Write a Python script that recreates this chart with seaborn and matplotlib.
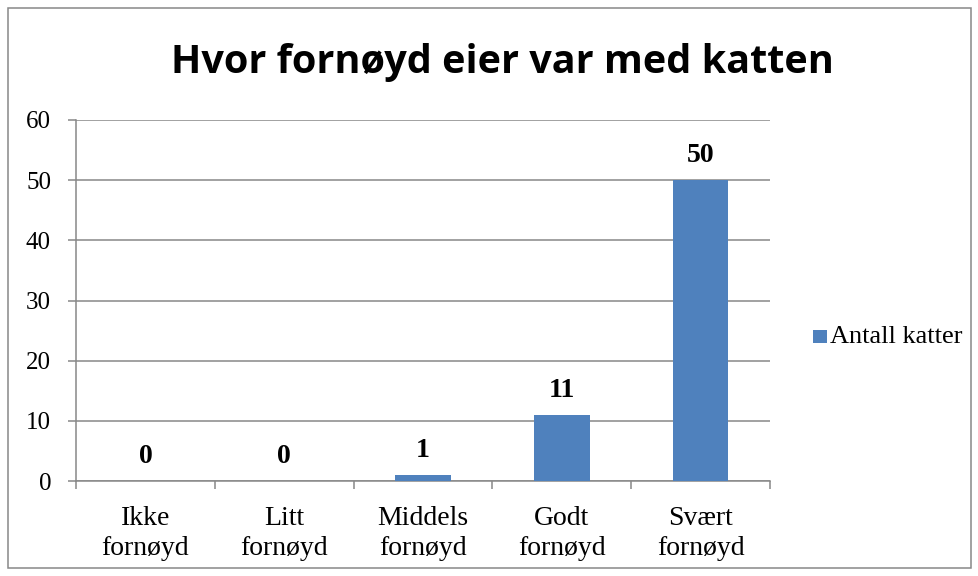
import matplotlib
matplotlib.use("Agg")
import matplotlib.pyplot as plt
import seaborn as sns
import pandas as pd
import numpy as np
from matplotlib.patches import Rectangle

categories = ["Ikke\nfornøyd", "Litt\nfornøyd", "Middels\nfornøyd", "Godt\nfornøyd", "Svært\nfornøyd"]
values = [0, 0, 1, 11, 50]
series_name = "Antall katter"
title = "Hvor fornøyd eier var med katten"
yticks = [0, 10, 20, 30, 40, 50, 60]

sns.set_theme(style="white")
plt.rcParams['font.family'] = ['Liberation Serif', 'DejaVu Serif']

df = pd.DataFrame({"cat": categories, "val": values, "series": series_name})

fig = plt.figure(figsize=(9.79, 5.76), dpi=100)
ax = fig.add_axes([76/979, 1-481/576, (770-76)/979, (481-120)/576])

bar_color = "#4F81BD"
grid_color = "#888888"
sns.barplot(data=df, x="cat", y="val", hue="series", palette=[bar_color],
            saturation=1, width=0.4, linewidth=0, ax=ax, legend=False, zorder=3)

ax.set_ylim(0, 60)
ax.set_xlim(-0.5, len(categories)-0.5)
ax.set_yticks(yticks)
ax.set_yticklabels([str(t) for t in yticks], fontsize=18, color="black")
ax.yaxis.grid(True, color=grid_color, linewidth=1.1, zorder=0)
ax.xaxis.grid(False)
ax.set_xlabel("")
ax.set_ylabel("")

ax.set_xticks(np.arange(len(categories)))
ax.set_xticklabels(categories, fontsize=20, color="black", linespacing=1.25)
ax.tick_params(axis="x", length=0, pad=18)
ax.set_xticks(np.arange(-0.5, len(categories)), minor=True)
ax.tick_params(axis="x", which="minor", length=6, width=1.1, color=grid_color, direction="out", bottom=True)
ax.tick_params(axis="y", length=6, width=1.1, color=grid_color, direction="out", left=True, pad=12)

for s in ["top", "right"]:
    ax.spines[s].set_visible(False)
for s in ["left", "bottom"]:
    ax.spines[s].set_color(grid_color)
    ax.spines[s].set_linewidth(1.1)

for i, v in enumerate(values):
    ax.annotate(str(v), xy=(i, v), xytext=(0, 13), textcoords="offset points",
                ha="center", va="baseline", fontsize=20, fontweight="bold", color="black")

fig.text(502/979, 1-73/576, title, ha="center", va="baseline", fontsize=28.5,
         fontweight="bold", family=["Open Sans", "DejaVu Sans"], color="black")

# legend
fig.patches.append(Rectangle((813/979, 1-343/576), 14/979, 13/576, transform=fig.transFigure,
                             facecolor=bar_color, edgecolor="none"))
fig.text(830/979, 1-343/576, series_name, ha="left", va="baseline", fontsize=19, color="black")

# figure border
fig.patches.append(Rectangle((8/979, 1-568/576), 963/979, 560/576, transform=fig.transFigure,
                             fill=False, edgecolor=grid_color, linewidth=1.1))

fig.savefig("out.png", dpi=100)
